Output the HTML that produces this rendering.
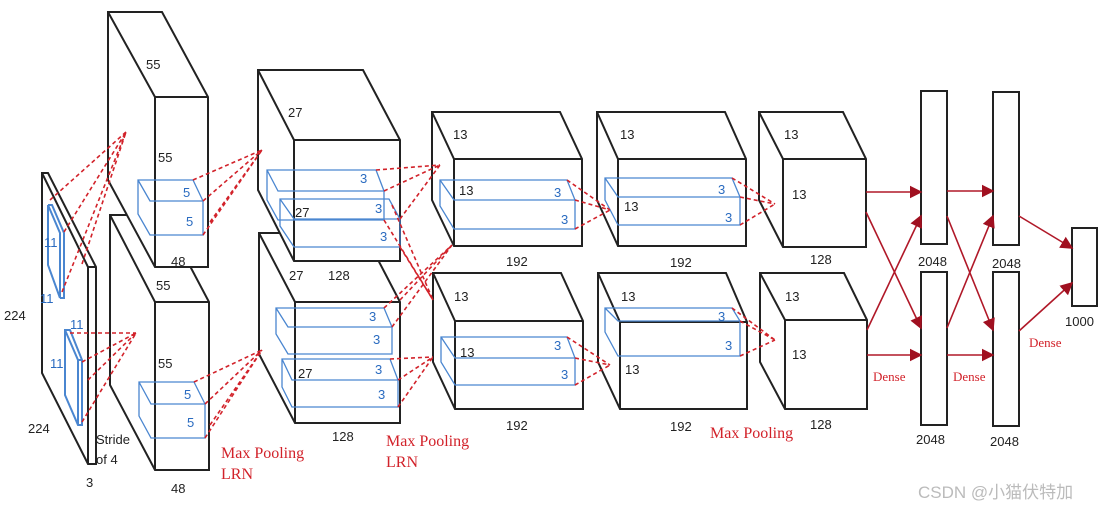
<!DOCTYPE html>
<html><head><meta charset="utf-8"><style>
html,body{margin:0;padding:0;background:#fff;}
svg{display:block;}
.k{fill:#222;font-size:13px;font-family:"Liberation Sans",sans-serif;}
.b{fill:#2a6bc0;font-size:13px;font-family:"Liberation Sans",sans-serif;}
</style></head><body>
<svg width="1113" height="509" viewBox="0 0 1113 509" xmlns="http://www.w3.org/2000/svg">
<g fill="none" stroke="#222" stroke-width="2">
<!-- input plane -->
<path d="M42,173 L48,173 L96,267 L96,464 L88,464 L42,373 Z" fill="#fff"/>
<path d="M42,173 L88,267 L88,464 M88,267 L96,267"/>
<!-- conv1 lower -->
<path d="M110,215 L163,215 L209,302 L209,470 L155,470 L110,385 Z" fill="#fff"/>
<path d="M110,215 L155,302 L209,302 M155,302 L155,470"/>
<!-- conv1 upper -->
<path d="M108,12 L162,12 L208,97 L208,267 L155,267 L108,180 Z" fill="#fff"/>
<path d="M108,12 L155,97 L208,97 M155,97 L155,267"/>
<!-- conv2 lower -->
<path d="M259,233 L364,233 L400,302 L400,423 L295,423 L259,354 Z" fill="#fff"/>
<path d="M259,233 L295,302 L400,302 M295,302 L295,423"/>
<!-- conv2 upper -->
<path d="M258,70 L363,70 L400,140 L400,261 L294,261 L258,190 Z" fill="#fff"/>
<path d="M258,70 L294,140 L400,140 M294,140 L294,261"/>
<!-- conv3 -->
<path d="M432,112 L560,112 L582,159 L582,246 L454,246 L432,200 Z" fill="#fff"/>
<path d="M432,112 L454,159 L582,159 M454,159 L454,246"/>
<path d="M433,273 L561,273 L583,321 L583,409 L455,409 L433,362 Z" fill="#fff"/>
<path d="M433,273 L455,321 L583,321 M455,321 L455,409"/>
<!-- conv4 -->
<path d="M597,112 L725,112 L746,159 L746,246 L618,246 L597,200 Z" fill="#fff"/>
<path d="M597,112 L618,159 L746,159 M618,159 L618,246"/>
<path d="M598,273 L726,273 L747,322 L747,409 L620,409 L598,362 Z" fill="#fff"/>
<path d="M598,273 L620,322 L747,322 M620,322 L620,409"/>
<!-- conv5 -->
<path d="M759,112 L843,112 L866,159 L866,247 L783,247 L759,200 Z" fill="#fff"/>
<path d="M759,112 L783,159 L866,159 M783,159 L783,247"/>
<path d="M760,273 L844,273 L867,320 L867,409 L785,409 L760,362 Z" fill="#fff"/>
<path d="M760,273 L785,320 L867,320 M785,320 L785,409"/>
<!-- dense -->
<rect x="921" y="91" width="26" height="153"/>
<rect x="921" y="272" width="26" height="153"/>
<rect x="993" y="92" width="26" height="153"/>
<rect x="993" y="272" width="26" height="154"/>
<rect x="1072" y="228" width="25" height="78"/>
</g>
<!-- blue kernels -->
<g fill="none" stroke="#4a86d0" stroke-width="1.3">
<path d="M48,205 L60,233 L60,298 M48,205 L48,265 L60,298 M48,205 L52,205 L64,233 L64,298 L60,298" stroke-width="2"/>
<path d="M65,330 L70,330 L82,360 L82,425 L78,425 L65,395 Z M65,330 L78,360 L78,425 M78,360 L82,360" stroke-width="2"/>
<path d="M138,180 L193,180 L203,201 L203,235 L150,235 L138,214 Z M138,180 L150,201 L203,201"/>
<path d="M139,382 L194,382 L205,404 L205,438 L151,438 L139,416 Z M139,382 L151,404 L205,404"/>
<path d="M267,170 L376,170 L384,191 L384,220 L278,220 L267,200 Z M267,170 L278,191 L384,191"/>
<path d="M280,199 L389,199 L400,219 L400,247 L294,247 L280,226 Z M280,199 L294,219 L400,219"/>
<path d="M276,308 L384,308 L392,327 L392,354 L288,354 L276,334 Z M276,308 L288,327 L392,327"/>
<path d="M282,359 L390,359 L398,380 L398,407 L292,407 L282,387 Z M282,359 L292,380 L398,380"/>
<path d="M440,180 L567,180 L575,200 L575,229 L454,229 L440,206 Z M440,180 L454,200 L575,200"/>
<path d="M441,337 L567,337 L575,358 L575,385 L455,385 L441,362 Z M441,337 L455,358 L575,358"/>
<path d="M605,178 L732,178 L740,197 L740,225 L618,225 L605,200 Z M605,178 L618,197 L740,197"/>
<path d="M605,308 L732,308 L740,321 L740,356 L618,356 L605,332 Z M605,308 L618,321 L740,321"/>
</g>
<!-- red dashed lines -->
<g fill="none" stroke="#d2222a" stroke-width="1.6" stroke-dasharray="4,3">
<path d="M50,200 L126,132 M64,232 L126,132 M62,292 L126,132 M82,264 L126,132"/>
<path d="M70,333 L136,333 M82,362 L136,333 M82,422 L136,333 M88,380 L136,333"/>
<path d="M193,180 L262,150 M203,201 L262,150 M210,222 L262,150 M203,235 L262,150"/>
<path d="M194,382 L262,350 M205,404 L262,350 M210,425 L262,350 M205,438 L262,350"/>
<path d="M376,170 L440,165 M384,191 L440,165 M400,219 L440,165"/>
<path d="M384,220 L433,300 M400,247 L433,300 M392,205 L433,300"/>
<path d="M384,308 L452,245 M392,327 L452,245 M400,300 L452,245"/>
<path d="M390,359 L433,357 M398,380 L433,357 M398,407 L433,357"/>
<path d="M567,180 L610,210 M575,200 L610,210 M575,229 L610,210"/>
<path d="M567,337 L610,365 M575,358 L610,365 M575,385 L610,365"/>
<path d="M732,178 L775,204 M740,197 L775,204 M740,225 L775,204"/>
<path d="M732,308 L775,340 M740,321 L775,340 M740,356 L775,340"/>
</g>
<!-- dense arrows -->
<defs><marker id="a" markerWidth="8" markerHeight="8" refX="7" refY="4" orient="auto"><path d="M0,0 L8,4 L0,8 Z" fill="#a01020"/></marker></defs>
<g stroke="#b01828" stroke-width="1.6" marker-end="url(#a)">
<line x1="866" y1="192" x2="921" y2="192"/>
<line x1="866" y1="212" x2="921" y2="328"/>
<line x1="867" y1="330" x2="921" y2="216"/>
<line x1="867" y1="355" x2="921" y2="355"/>
<line x1="947" y1="191" x2="993" y2="191"/>
<line x1="947" y1="216" x2="993" y2="330"/>
<line x1="947" y1="328" x2="993" y2="216"/>
<line x1="947" y1="355" x2="993" y2="355"/>
<line x1="1019" y1="216" x2="1072" y2="248"/>
<line x1="1019" y1="331" x2="1072" y2="283"/>
</g>
<!-- labels -->
<g class="k">
<text x="146" y="69">55</text><text x="158" y="162">55</text><text x="171" y="266">48</text>
<text x="156" y="290">55</text><text x="158" y="368">55</text><text x="171" y="493">48</text>
<text x="4" y="320">224</text><text x="28" y="433">224</text><text x="86" y="487">3</text>
<text x="96" y="444">Stride</text><text x="96" y="464">of 4</text>
<text x="288" y="117">27</text><text x="295" y="217">27</text><text x="289" y="280">27</text><text x="328" y="280">128</text>
<text x="298" y="378">27</text><text x="332" y="441">128</text>
<text x="453" y="139">13</text><text x="459" y="195">13</text><text x="506" y="266">192</text>
<text x="454" y="301">13</text><text x="460" y="357">13</text><text x="506" y="430">192</text>
<text x="620" y="139">13</text><text x="624" y="211">13</text><text x="670" y="267">192</text>
<text x="621" y="301">13</text><text x="625" y="374">13</text><text x="670" y="431">192</text>
<text x="784" y="139">13</text><text x="792" y="199">13</text><text x="810" y="264">128</text>
<text x="785" y="301">13</text><text x="792" y="359">13</text><text x="810" y="429">128</text>
<text x="918" y="266">2048</text><text x="992" y="268">2048</text>
<text x="916" y="444">2048</text><text x="990" y="446">2048</text>
<text x="1065" y="326">1000</text>
</g>
<g class="b">
<text x="44" y="247">11</text><text x="40" y="303">11</text><text x="70" y="329">11</text><text x="50" y="368">11</text>
<text x="183" y="197">5</text><text x="186" y="226">5</text><text x="184" y="399">5</text><text x="187" y="427">5</text>
<text x="360" y="183">3</text><text x="375" y="213">3</text><text x="380" y="241">3</text>
<text x="369" y="321">3</text><text x="373" y="344">3</text><text x="375" y="374">3</text><text x="378" y="399">3</text>
<text x="554" y="197">3</text><text x="561" y="224">3</text><text x="554" y="350">3</text><text x="561" y="379">3</text>
<text x="718" y="194">3</text><text x="725" y="222">3</text><text x="718" y="321">3</text><text x="725" y="350">3</text>
</g>
<g fill="#d2222a" font-family="Liberation Serif, serif" font-size="16">
<text x="221" y="458">Max Pooling</text><text x="221" y="479">LRN</text>
<text x="386" y="446">Max Pooling</text><text x="386" y="467">LRN</text>
<text x="710" y="438">Max Pooling</text>
</g>
<g fill="#d2222a" font-family="Liberation Serif, serif" font-size="13"><text x="873" y="381">Dense</text><text x="953" y="381">Dense</text><text x="1029" y="347">Dense</text></g>
<text x="918" y="498" fill="#bbb" font-size="17" font-family="Liberation Sans, Noto Sans CJK SC, sans-serif">CSDN @小猫伏特加</text>
</svg>
</body></html>
